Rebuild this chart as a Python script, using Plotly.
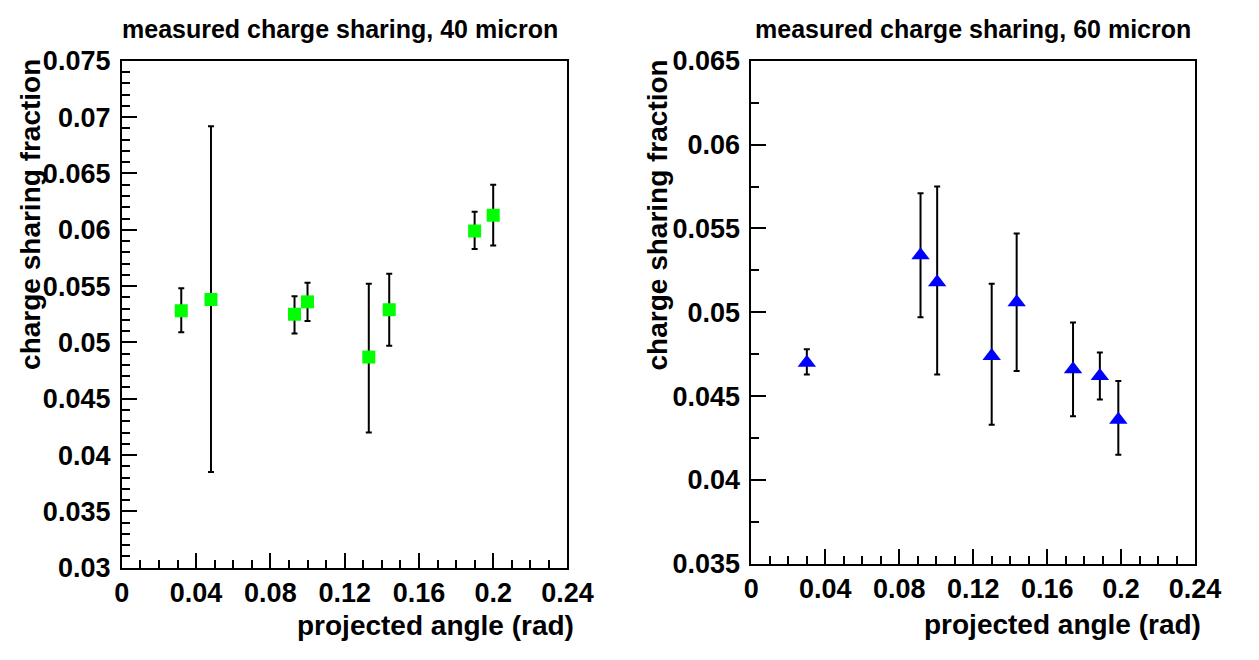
import plotly.graph_objects as go

# ---------------- data ----------------
x40 = [0.032, 0.048, 0.093, 0.100, 0.133, 0.144, 0.190, 0.200]
y40 = [0.0528, 0.0538, 0.0525, 0.0536, 0.0487, 0.0529, 0.0599, 0.0613]
y40_hi = [0.0548, 0.0692, 0.0541, 0.0553, 0.0552, 0.0561, 0.0616, 0.0640]
y40_lo = [0.0509, 0.0385, 0.0508, 0.0519, 0.0420, 0.0497, 0.0583, 0.0586]

x60 = [0.030, 0.0915, 0.1005, 0.130, 0.1435, 0.174, 0.1885, 0.1985]
y60 = [0.0470, 0.0534, 0.0518, 0.0474, 0.0506, 0.0466, 0.0462, 0.0436]
y60_hi = [0.0478, 0.0571, 0.0575, 0.0517, 0.0547, 0.0494, 0.0476, 0.0459]
y60_lo = [0.0463, 0.0497, 0.0463, 0.0433, 0.0465, 0.0438, 0.0448, 0.0415]

x_tickvals = [0, 0.04, 0.08, 0.12, 0.16, 0.2, 0.24]
x_ticktext = ["0", "0.04", "0.08", "0.12", "0.16", "0.2", "0.24"]
y40_tickvals = [0.03, 0.035, 0.04, 0.045, 0.05, 0.055, 0.06, 0.065, 0.07, 0.075]
y40_ticktext = ["0.03", "0.035", "0.04", "0.045", "0.05", "0.055", "0.06", "0.065", "0.07", "0.075"]
y60_tickvals = [0.035, 0.04, 0.045, 0.05, 0.055, 0.06, 0.065]
y60_ticktext = ["0.035", "0.04", "0.045", "0.05", "0.055", "0.06", "0.065"]

title40 = "measured charge sharing, 40 micron"
title60 = "measured charge sharing, 60 micron"
xtitle = "projected angle (rad)"
ytitle = "charge sharing fraction"

# ---------------- layout geometry ----------------
W, H = 1259, 660
def px_x(p):
    return p / W
def px_y(p):
    return 1 - p / H

FONT = "Liberation Sans, Arial, Helvetica, sans-serif"

err_up40 = [h - y for h, y in zip(y40_hi, y40)]
err_dn40 = [y - l for l, y in zip(y40_lo, y40)]
err_up60 = [h - y for h, y in zip(y60_hi, y60)]
err_dn60 = [y - l for l, y in zip(y60_lo, y60)]

fig = go.Figure()
fig.add_trace(go.Scatter(
    x=x40, y=y40, mode="markers", xaxis="x", yaxis="y",
    marker=dict(symbol="square", size=13, color="#00ff00", line=dict(width=0)),
    error_y=dict(type="data", symmetric=False, array=err_up40, arrayminus=err_dn40,
                 color="black", thickness=2, width=3),
    showlegend=False,
))
fig.add_trace(go.Scatter(
    x=x60, y=y60, mode="markers", xaxis="x2", yaxis="y2",
    marker=dict(symbol="triangle-up", size=16, color="#0000ff", line=dict(width=0)),
    error_y=dict(type="data", symmetric=False, array=err_up60, arrayminus=err_dn60,
                 color="black", thickness=2, width=3),
    showlegend=False,
))

tickfont = dict(family=FONT, size=27, color="black", weight="bold")

def xaxis_cfg(x0, x1, anchor):
    return dict(
        domain=[px_x(x0), px_x(x1)], anchor=anchor, range=[0, 0.24],
        tickmode="array", tickvals=x_tickvals, ticktext=x_ticktext,
        ticks="inside", ticklen=15, tickwidth=2, tickcolor="black",
        minor=dict(tickmode="linear", tick0=0, dtick=0.01, ticks="inside",
                   ticklen=8, tickwidth=2, tickcolor="black"),
        showline=True, linecolor="black", linewidth=2, mirror=True,
        showgrid=False, zeroline=False, tickfont=tickfont,
        ticklabelstandoff=0,
    )

def yaxis_cfg(y0, y1, anchor, rng, tv, tt, mdt):
    return dict(
        domain=[px_y(y1), px_y(y0)], anchor=anchor, range=rng,
        tickmode="array", tickvals=tv, ticktext=tt,
        ticks="inside", ticklen=15, tickwidth=2, tickcolor="black",
        minor=dict(tickmode="linear", tick0=rng[0], dtick=mdt, ticks="inside",
                   ticklen=8, tickwidth=2, tickcolor="black"),
        showline=True, linecolor="black", linewidth=2, mirror=True,
        showgrid=False, zeroline=False, tickfont=tickfont,
        ticklabelstandoff=4,
    )

fig.update_layout(
    width=W, height=H,
    margin=dict(l=0, r=0, t=0, b=0),
    paper_bgcolor="white", plot_bgcolor="white",
    xaxis=xaxis_cfg(117, 575, "y"),
    yaxis=yaxis_cfg(48, 579, "x", [0.03, 0.075], y40_tickvals, y40_ticktext, 0.001),
    xaxis2=xaxis_cfg(764, 1220, "y2"),
    yaxis2=yaxis_cfg(48, 575, "x2", [0.035, 0.065], y60_tickvals, y60_ticktext, 0.0025),
)

title_font = dict(family=FONT, size=25, color="black", weight="bold")
axis_title_font = dict(family=FONT, size=28, color="black", weight="bold")

annotations = [
    dict(text=title40, x=px_x(341), y=px_y(15), xref="paper", yref="paper",
         xanchor="center", yanchor="middle", showarrow=False, font=title_font),
    dict(text=title60, x=px_x(992), y=px_y(15), xref="paper", yref="paper",
         xanchor="center", yanchor="middle", showarrow=False, font=title_font),
    dict(text=xtitle, x=px_x(584), y=px_y(640), xref="paper", yref="paper",
         xanchor="right", yanchor="middle", showarrow=False, font=axis_title_font),
    dict(text=xtitle, x=px_x(1228), y=px_y(638), xref="paper", yref="paper",
         xanchor="right", yanchor="middle", showarrow=False, font=axis_title_font),
    dict(text=ytitle, x=px_x(23), y=px_y(44), xref="paper", yref="paper",
         xanchor="center", yanchor="top", textangle=-90, showarrow=False, font=axis_title_font),
    dict(text=ytitle, x=px_x(668), y=px_y(44), xref="paper", yref="paper",
         xanchor="center", yanchor="top", textangle=-90, showarrow=False, font=axis_title_font),
]
fig.update_layout(annotations=annotations)

fig.write_html("out.html")
